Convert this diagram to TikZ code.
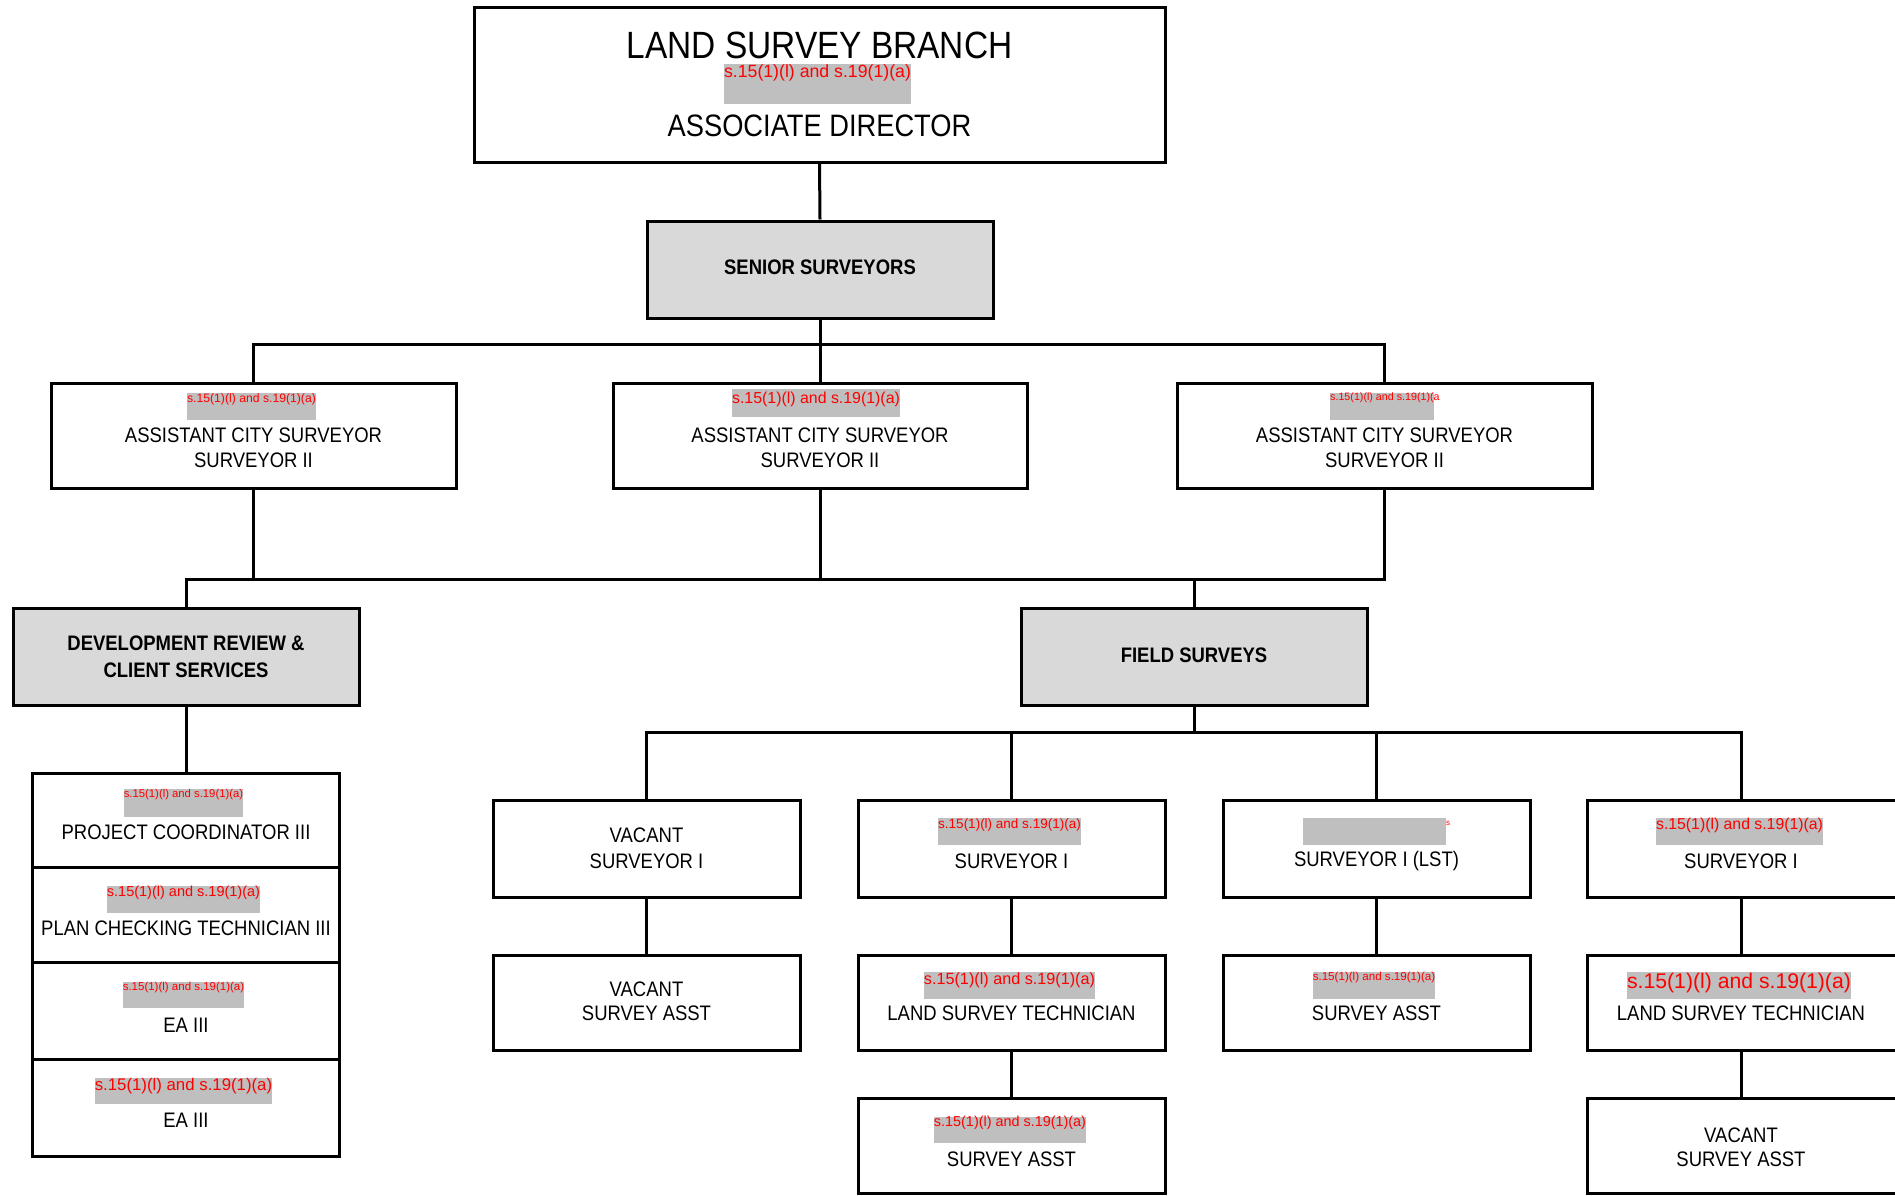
\documentclass[tikz,border=0pt]{standalone}
\usepackage{fontspec}
\setmainfont[FakeStretch=0.88]{Liberation Sans}
\newfontfamily\redf{Liberation Sans}
\definecolor{hdr}{HTML}{D9D9D9}
\definecolor{redbg}{HTML}{BFBFBF}
\definecolor{redtx}{HTML}{FF0000}
\newcommand\fsz[2]{\fontsize{#1}{#2}\selectfont}
\begin{document}
\begin{tikzpicture}[x=1pt,y=-1pt,
  box/.style={draw=black, line width=3pt, inner sep=0pt, fill=white},
  hbox/.style={box, fill=hdr},
  conn/.style={draw=black, line width=3pt},
  lbl/.style={inner sep=0pt, align=center, text=black},
  gbar/.style={fill=redbg, inner sep=0pt, draw=none},
  rtx/.style={inner sep=0pt, text=redtx},
]
\fill[white] (0,0) rectangle (1895,1196);
\useasboundingbox (0,0) rectangle (1895,1196);

% ---------- boxes ----------
\node[box, minimum width=691pt, minimum height=154pt] (top) at (819.5,85) {};
\node[hbox, minimum width=346pt, minimum height=97pt] (senior) at (820,269.5) {};
\node[box, minimum width=405pt, minimum height=105pt] (acs1) at (253.5,435.5) {};
\node[box, minimum width=414pt, minimum height=105pt] (acs2) at (820,435.5) {};
\node[box, minimum width=415pt, minimum height=105pt] (acs3) at (1384.5,435.5) {};
\node[hbox, minimum width=346pt, minimum height=97pt] (dr) at (186,656.5) {};
\node[hbox, minimum width=346pt, minimum height=97pt] (fs) at (1194,656.5) {};
\node[box, minimum width=307pt, minimum height=94pt] (r1) at (186,820) {};
\node[box, minimum width=307pt, minimum height=95pt] (r2) at (186,914.5) {};
\node[box, minimum width=307pt, minimum height=97pt] (r3) at (186,1010.5) {};
\node[box, minimum width=307pt, minimum height=97pt] (r4) at (186,1107.5) {};
\node[box, minimum width=307pt, minimum height=97pt] (a1) at (646.5,848.5) {};
\node[box, minimum width=307pt, minimum height=97pt] (b1) at (1011.5,848.5) {};
\node[box, minimum width=307pt, minimum height=97pt] (c1) at (1376.5,848.5) {};
\node[box, minimum width=316pt, minimum height=97pt] (d1) at (1745,848.5) {};
\node[box, minimum width=307pt, minimum height=95pt] (a2) at (646.5,1002.5) {};
\node[box, minimum width=307pt, minimum height=95pt] (b2) at (1011.5,1002.5) {};
\node[box, minimum width=307pt, minimum height=95pt] (c2) at (1376.5,1002.5) {};
\node[box, minimum width=316pt, minimum height=95pt] (d2) at (1745,1002.5) {};
\node[box, minimum width=307pt, minimum height=95pt] (b3) at (1011.5,1145.5) {};
\node[box, minimum width=316pt, minimum height=95pt] (d3) at (1745,1145.5) {};

% ---------- connectors ----------
\coordinate (bus1) at (0,344);
\coordinate (bus2) at (0,579);
\coordinate (bus3) at (0,732);
\coordinate (dx) at (1741,0);
\draw[conn] (top.south) -- (senior.north);
\draw[conn] (senior.south) -- (senior.south |- bus1);
\draw[conn] (acs1.north) |- (acs3.north |- bus1) -- (acs3.north);
\draw[conn] (acs2.north) -- (acs2.north |- bus1);
\draw[conn] (acs1.south) -- (acs1.south |- bus2);
\draw[conn] (acs2.south) -- (acs2.south |- bus2);
\draw[conn] (dr.north) |- (acs3.south |- bus2) -- (acs3.south);
\draw[conn] (fs.north) -- (fs.north |- bus2);
\draw[conn] (dr.south) -- (r1.north);
\draw[conn] (fs.south) -- (fs.south |- bus3);
\draw[conn] (a1.north) |- (dx |- bus3) -- (dx |- d1.north);
\draw[conn] (b1.north) -- (b1.north |- bus3);
\draw[conn] (c1.north) -- (c1.north |- bus3);
\draw[conn] (a1.south) -- (a2.north);
\draw[conn] (b1.south) -- (b2.north);
\draw[conn] (b2.south) -- (b3.north);
\draw[conn] (c1.south) -- (c2.north);
\draw[conn] (dx |- d1.south) -- (dx |- d2.north);
\draw[conn] (dx |- d2.south) -- (dx |- d3.north);

% ---------- redaction bars ----------
\node[gbar, minimum width=187pt, minimum height=40pt] (g0) at (817.5,84) {};
\node[gbar, minimum width=129pt, minimum height=27pt] (g1) at (251.5,406.5) {};
\node[gbar, minimum width=168pt, minimum height=28pt] (g2) at (816,403) {};
\node[gbar, minimum width=104pt, minimum height=27pt] (g3) at (1382,406.5) {};
\node[gbar, minimum width=119pt, minimum height=28pt] (g4) at (183.5,803) {};
\node[gbar, minimum width=153pt, minimum height=27pt] (g5) at (183.5,899.5) {};
\node[gbar, minimum width=121pt, minimum height=26pt] (g6) at (183.5,995) {};
\node[gbar, minimum width=177pt, minimum height=26pt] (g7) at (183.5,1091) {};
\node[gbar, minimum width=143pt, minimum height=27pt] (g8) at (1009.5,831.5) {};
\node[gbar, minimum width=171pt, minimum height=27pt] (g9) at (1009.5,985.5) {};
\node[gbar, minimum width=143pt, minimum height=27pt] (g10) at (1374.5,831.5) {};
\node[gbar, minimum width=122pt, minimum height=27pt] (g11) at (1374,985.5) {};
\node[gbar, minimum width=167pt, minimum height=27pt] (g12) at (1739.5,831.5) {};
\node[gbar, minimum width=224pt, minimum height=27pt] (g13) at (1739,985.5) {};
\node[gbar, minimum width=152pt, minimum height=26pt] (g14) at (1010,1130) {};

% ---------- redaction texts ----------
\node[rtx, font=\redf\fsz{17.7}{20}] (s0) at (817.5,73) {s.15(1)(l) and s.19(1)(a)};
\node[rtx, font=\redf\fsz{12.2}{14}] (s1) at (251.5,399) {s.15(1)(l) and s.19(1)(a)};
\node[rtx, font=\redf\fsz{15.9}{18}] (s2) at (816,399) {s.15(1)(l) and s.19(1)(a)};
\node[rtx, font=\redf\fsz{10.7}{12}, anchor=west] (s3) at (1330,398) {s.15(1)(l) and s.19(1)(a};
\node[rtx, font=\redf\fsz{11.3}{13}] (s4) at (183.5,795) {s.15(1)(l) and s.19(1)(a)};
\node[rtx, font=\redf\fsz{14.5}{16}] (s5) at (183.5,893) {s.15(1)(l) and s.19(1)(a)};
\node[rtx, font=\redf\fsz{11.5}{13}] (s6) at (183.5,988) {s.15(1)(l) and s.19(1)(a)};
\node[rtx, font=\redf\fsz{16.8}{19}] (s7) at (183.5,1086) {s.15(1)(l) and s.19(1)(a)};
\node[rtx, font=\redf\fsz{13.5}{15}] (s8) at (1009.5,825) {s.15(1)(l) and s.19(1)(a)};
\node[rtx, font=\redf\fsz{16.2}{18}] (s9) at (1009.5,980) {s.15(1)(l) and s.19(1)(a)};
\node[rtx, font=\redf\fsz{8}{9}, anchor=west] (s10) at (1446,823) {s};
\node[rtx, font=\redf\fsz{11.6}{13}] (s11) at (1374,977) {s.15(1)(l) and s.19(1)(a)};
\node[rtx, font=\redf\fsz{15.8}{18}] (s12) at (1739.5,825) {s.15(1)(l) and s.19(1)(a)};
\node[rtx, font=\redf\fsz{21.2}{24}] (s13) at (1739,983) {s.15(1)(l) and s.19(1)(a)};
\node[rtx, font=\redf\fsz{14.4}{16}] (s14) at (1010,1123) {s.15(1)(l) and s.19(1)(a)};

% ---------- texts ----------
\node[lbl, font=\fsz{38}{40}] (t0) at (819.5,45) {LAND SURVEY BRANCH};
\node[lbl, font=\fsz{31}{33}] (t1) at (819.5,126) {ASSOCIATE DIRECTOR};
\node[lbl, font=\bfseries\fsz{21}{25}] (t2) at (820,267.5) {SENIOR SURVEYORS};
\node[lbl, font=\fsz{21}{25}] (t3) at (253.5,447.5) {ASSISTANT CITY SURVEYOR\\SURVEYOR II};
\node[lbl, font=\fsz{21}{25}] (t4) at (820,447.5) {ASSISTANT CITY SURVEYOR\\SURVEYOR II};
\node[lbl, font=\fsz{21}{25}] (t5) at (1384.5,447.5) {ASSISTANT CITY SURVEYOR\\SURVEYOR II};
\node[lbl, font=\bfseries\fsz{21}{27}] (t6) at (186,656.5) {DEVELOPMENT REVIEW \&\\CLIENT SERVICES};
\node[lbl, font=\bfseries\fsz{21}{25}] (t7) at (1194,655) {FIELD SURVEYS};
\node[lbl, font=\fsz{21}{25}] (t8) at (186,832) {PROJECT COORDINATOR III};
\node[lbl, font=\fsz{21}{25}] (t9) at (186,928) {PLAN CHECKING TECHNICIAN III};
\node[lbl, font=\fsz{21}{25}] (t10) at (186,1025) {EA III};
\node[lbl, font=\fsz{21}{25}] (t11) at (186,1120) {EA III};
\node[lbl, font=\fsz{21}{26}] (t12) at (646.5,848) {VACANT\\SURVEYOR I};
\node[lbl, font=\fsz{21}{25}] (t13) at (1011.5,861) {SURVEYOR I};
\node[lbl, font=\fsz{21}{25}] (t14) at (1376.5,861) {SURVEYOR I (LST)};
\node[lbl, font=\fsz{21}{25}] (t15) at (1741,861) {SURVEYOR I};
\node[lbl, font=\fsz{21}{24}] (t16) at (646.5,1001) {VACANT\\SURVEY ASST};
\node[lbl, font=\fsz{21}{25}] (t17) at (1011.5,1013) {LAND SURVEY TECHNICIAN};
\node[lbl, font=\fsz{21}{25}] (t18) at (1376.5,1013) {SURVEY ASST};
\node[lbl, font=\fsz{21}{25}] (t19) at (1741,1013) {LAND SURVEY TECHNICIAN};
\node[lbl, font=\fsz{21}{25}] (t20) at (1011.5,1159) {SURVEY ASST};
\node[lbl, font=\fsz{21}{24}] (t21) at (1741,1147) {VACANT\\SURVEY ASST};
\end{tikzpicture}
\end{document}
